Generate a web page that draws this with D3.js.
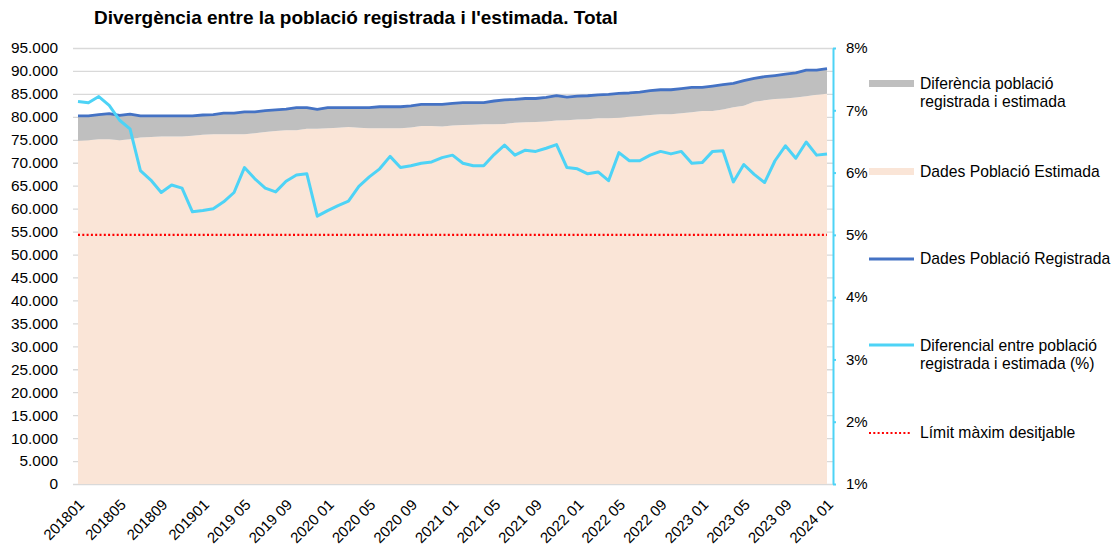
<!DOCTYPE html>
<html>
<head>
<meta charset="utf-8">
<script src="https://cdn.jsdelivr.net/npm/d3@7"></script>
<style>
  body { margin: 0; background: #fff; }
  svg { font-family: "Liberation Sans", Arial, sans-serif; }
  .tick text { fill: #000; }
</style>
</head>
<body>
<div id="chart"></div>
<script>
// data

var months = [
  "201801","201802","201803","201804","201805","201806","201807","201808","201809","201810","201811","201812",
  "201901","201902","201903","201904","201905","201906","201907","201908","201909","201910","201911","201912",
  "202001","202002","202003","202004","202005","202006","202007","202008","202009","202010","202011","202012",
  "202101","202102","202103","202104","202105","202106","202107","202108","202109","202110","202111","202112",
  "202201","202202","202203","202204","202205","202206","202207","202208","202209","202210","202211","202212",
  "202301","202302","202303","202304","202305","202306","202307","202308","202309","202310","202311","202312",
  "202401"
];

// tick labels shown on the x axis
var tickMonths = ["201801","201805","201809","201901","201905","201909","202001","202005","202009",
  "202101","202105","202109","202201","202205","202209","202301","202305","202309","202401"];
var tickLabels = ["201801","201805","201809","201901","2019 05","2019 09","2020 01","2020 05","2020 09",
  "2021 01","2021 05","2021 09","2022 01","2022 05","2022 09","2023 01","2023 05","2023 09","2024 01"];

// Dades Població Registrada
var registrada = [
  80200,80200,80500,80700,80300,80600,80200,80200,80200,80200,80200,80200,
  80400,80500,80800,80800,81100,81100,81350,81500,81700,82000,82000,81650,
  82000,82000,82000,82000,82000,82200,82200,82200,82400,82700,82700,82700,
  82950,83100,83100,83100,83450,83700,83800,84000,84000,84250,84600,84300,
  84500,84600,84800,84900,85100,85200,85400,85700,85900,85900,86150,86400,
  86400,86700,87000,87300,87900,88400,88750,89000,89300,89600,90200,90200,
  90500
];

// Dades Població Estimada
var estimada = [
  74800,74900,75100,75100,74900,75100,75500,75600,75700,75700,75700,75900,
  76100,76200,76200,76200,76200,76400,76700,76900,77100,77100,77400,77400,
  77500,77600,77800,77600,77500,77500,77500,77500,77700,78000,78000,77900,
  78100,78200,78300,78400,78400,78450,78700,78800,78900,79000,79200,79250,
  79400,79500,79700,79700,79800,80000,80200,80400,80550,80550,80800,81000,
  81300,81300,81600,82100,82400,83300,83600,83900,84000,84200,84500,84800,
  85050
];

// Diferencial entre població registrada i estimada (%)
var diferencial = [
  7.14,7.12,7.22,7.08,6.84,6.70,6.03,5.88,5.68,5.80,5.75,5.37,
  5.39,5.42,5.53,5.68,6.08,5.90,5.75,5.69,5.86,5.96,5.98,5.30,
  5.39,5.47,5.54,5.78,5.93,6.06,6.26,6.08,6.11,6.15,6.17,6.24,
  6.28,6.15,6.11,6.11,6.29,6.44,6.28,6.36,6.34,6.39,6.45,6.08,
  6.06,5.98,6.01,5.87,6.32,6.19,6.19,6.28,6.34,6.30,6.34,6.15,
  6.16,6.34,6.35,5.85,6.13,5.97,5.84,6.19,6.43,6.23,6.49,6.28,
  6.30
];

// Límit màxim desitjable (%)
var limit = 5;

var leftTicks = [0,5000,10000,15000,20000,25000,30000,35000,40000,45000,50000,55000,60000,65000,70000,75000,80000,85000,90000,95000];
var rightTicks = [1,2,3,4,5,6,7,8];

// initial settings

var svgWidth = 1118;
var svgHeight = 547;

var plot = { left: 73, right: 833, top: 48, bottom: 484, x0: 78, x1: 827 };

var cGrey = "#BFBFBF";
var cPeach = "#FAE5D7";
var cBlue = "#4472C4";
var cCyan = "#4DD3F6";
var cRed = "#FF0000";
var cGrid = "#D9D9D9";

var data = months.map(function (m, i) {
  return { month: m, reg: registrada[i], est: estimada[i], pct: diferencial[i] };
});

var svg = d3.select("#chart")
  .append("svg")
  .attr("width", svgWidth)
  .attr("height", svgHeight);

// scales

var x = d3.scalePoint()
  .domain(months)
  .range([plot.x0, plot.x1]);

var yL = d3.scaleLinear()
  .domain([0, 95000])
  .range([plot.bottom, plot.top]);

var yR = d3.scaleLinear()
  .domain([1, 8])
  .range([plot.bottom, plot.top]);

var ca = d3.formatLocale({ decimal: ",", thousands: ".", grouping: [3], currency: ["", "€"] });

// title

svg.append("text")
  .attr("x", 94)
  .attr("y", 24)
  .attr("font-size", "19px")
  .attr("font-weight", "bold")
  .attr("fill", "#000")
  .text("Divergència entre la població registrada i l'estimada. Total");

// gridlines

svg.append("g")
  .attr("transform", `translate(${plot.left}, 0)`)
  .call(d3.axisLeft(yL).tickValues(leftTicks).tickSize(-(plot.right - plot.left)).tickFormat(""))
  .call(g => g.select(".domain").remove())
  .call(g => g.selectAll("line").attr("stroke", cGrid).attr("stroke-width", 1.3));

// areas

var areaEst = d3.area()
  .x(d => x(d.month))
  .y0(yL(0))
  .y1(d => yL(d.est));

var areaDif = d3.area()
  .x(d => x(d.month))
  .y0(d => yL(d.est))
  .y1(d => yL(d.reg));

svg.append("path")
  .datum(data)
  .attr("fill", cPeach)
  .attr("d", areaEst);

svg.append("path")
  .datum(data)
  .attr("fill", cGrey)
  .attr("d", areaDif);

// limit line

svg.append("line")
  .attr("x1", plot.x0)
  .attr("x2", plot.x1)
  .attr("y1", yR(limit))
  .attr("y2", yR(limit))
  .attr("stroke", cRed)
  .attr("stroke-width", 2.2)
  .attr("stroke-dasharray", "2,2.3");

// lines

var lineReg = d3.line()
  .x(d => x(d.month))
  .y(d => yL(d.reg));

var linePct = d3.line()
  .x(d => x(d.month))
  .y(d => yR(d.pct));

svg.append("path")
  .datum(data)
  .attr("fill", "none")
  .attr("stroke", cBlue)
  .attr("stroke-width", 2.8)
  .attr("stroke-linejoin", "round")
  .attr("d", lineReg);

svg.append("path")
  .datum(data)
  .attr("fill", "none")
  .attr("stroke", cCyan)
  .attr("stroke-width", 3)
  .attr("stroke-linejoin", "round")
  .attr("d", linePct);

// left axis labels

svg.append("g")
  .attr("transform", "translate(58, 0)")
  .call(d3.axisLeft(yL).tickValues(leftTicks).tickSize(0).tickPadding(0).tickFormat(ca.format(",d")))
  .call(g => g.select(".domain").remove())
  .call(g => g.selectAll("text").attr("font-size", "15.4px").attr("font-family", "Liberation Sans, Arial, sans-serif"));

// right axis

svg.append("g")
  .attr("transform", `translate(${plot.right}, 0)`)
  .call(d3.axisRight(yR).tickValues(rightTicks).tickSize(3).tickSizeOuter(0).tickPadding(10).tickFormat(d => d + "%"))
  .call(g => g.select(".domain").attr("stroke", cCyan).attr("stroke-width", 2))
  .call(g => g.selectAll("line").attr("stroke", cCyan).attr("stroke-width", 2))
  .call(g => g.selectAll("text").attr("font-size", "15px").attr("font-family", "Liberation Sans, Arial, sans-serif"));

// bottom axis

var labelOf = {};
tickMonths.forEach((m, i) => { labelOf[m] = tickLabels[i]; });

svg.append("g")
  .attr("transform", `translate(0, ${plot.bottom})`)
  .call(d3.axisBottom(x).tickValues(tickMonths).tickSize(0).tickFormat(d => labelOf[d]))
  .call(g => g.select(".domain").remove())
  .call(g => g.selectAll("text")
    .attr("font-size", "15px")
    .attr("font-family", "Liberation Sans, Arial, sans-serif")
    .attr("text-anchor", "end")
    .attr("x", 0)
    .attr("y", 0)
    .attr("dy", "0.35em")
    .attr("transform", "translate(3, 18) rotate(-45)"));

// legend

var legend = svg.append("g")
  .attr("font-size", "15.7px")
  .attr("fill", "#000");

var lx = 869, lw = 45, tx = 920;

legend.append("rect").attr("x", lx).attr("y", 80).attr("width", lw).attr("height", 7).attr("fill", cGrey);
legend.append("text").attr("x", tx).attr("y", 83.5).attr("dy", "0.35em").text("Diferència població");
legend.append("text").attr("x", tx).attr("y", 101.5).attr("dy", "0.35em").text("registrada i estimada");

legend.append("rect").attr("x", lx).attr("y", 168).attr("width", lw).attr("height", 7).attr("fill", cPeach);
legend.append("text").attr("x", tx).attr("y", 171.5).attr("dy", "0.35em").text("Dades Població Estimada");

legend.append("line").attr("x1", lx).attr("x2", lx + lw).attr("y1", 259).attr("y2", 259)
  .attr("stroke", cBlue).attr("stroke-width", 3);
legend.append("text").attr("x", tx).attr("y", 259).attr("dy", "0.35em").text("Dades Població Registrada");

legend.append("line").attr("x1", lx).attr("x2", lx + lw).attr("y1", 345).attr("y2", 345)
  .attr("stroke", cCyan).attr("stroke-width", 3);
legend.append("text").attr("x", tx).attr("y", 345.5).attr("dy", "0.35em").text("Diferencial entre població");
legend.append("text").attr("x", tx).attr("y", 364).attr("dy", "0.35em").text("registrada i estimada (%)");

legend.append("line").attr("x1", lx).attr("x2", lx + 41).attr("y1", 433).attr("y2", 433)
  .attr("stroke", cRed).attr("stroke-width", 2.2).attr("stroke-dasharray", "2,2.3");
legend.append("text").attr("x", tx).attr("y", 433).attr("dy", "0.35em").text("Límit màxim desitjable");
</script>
</body>
</html>
